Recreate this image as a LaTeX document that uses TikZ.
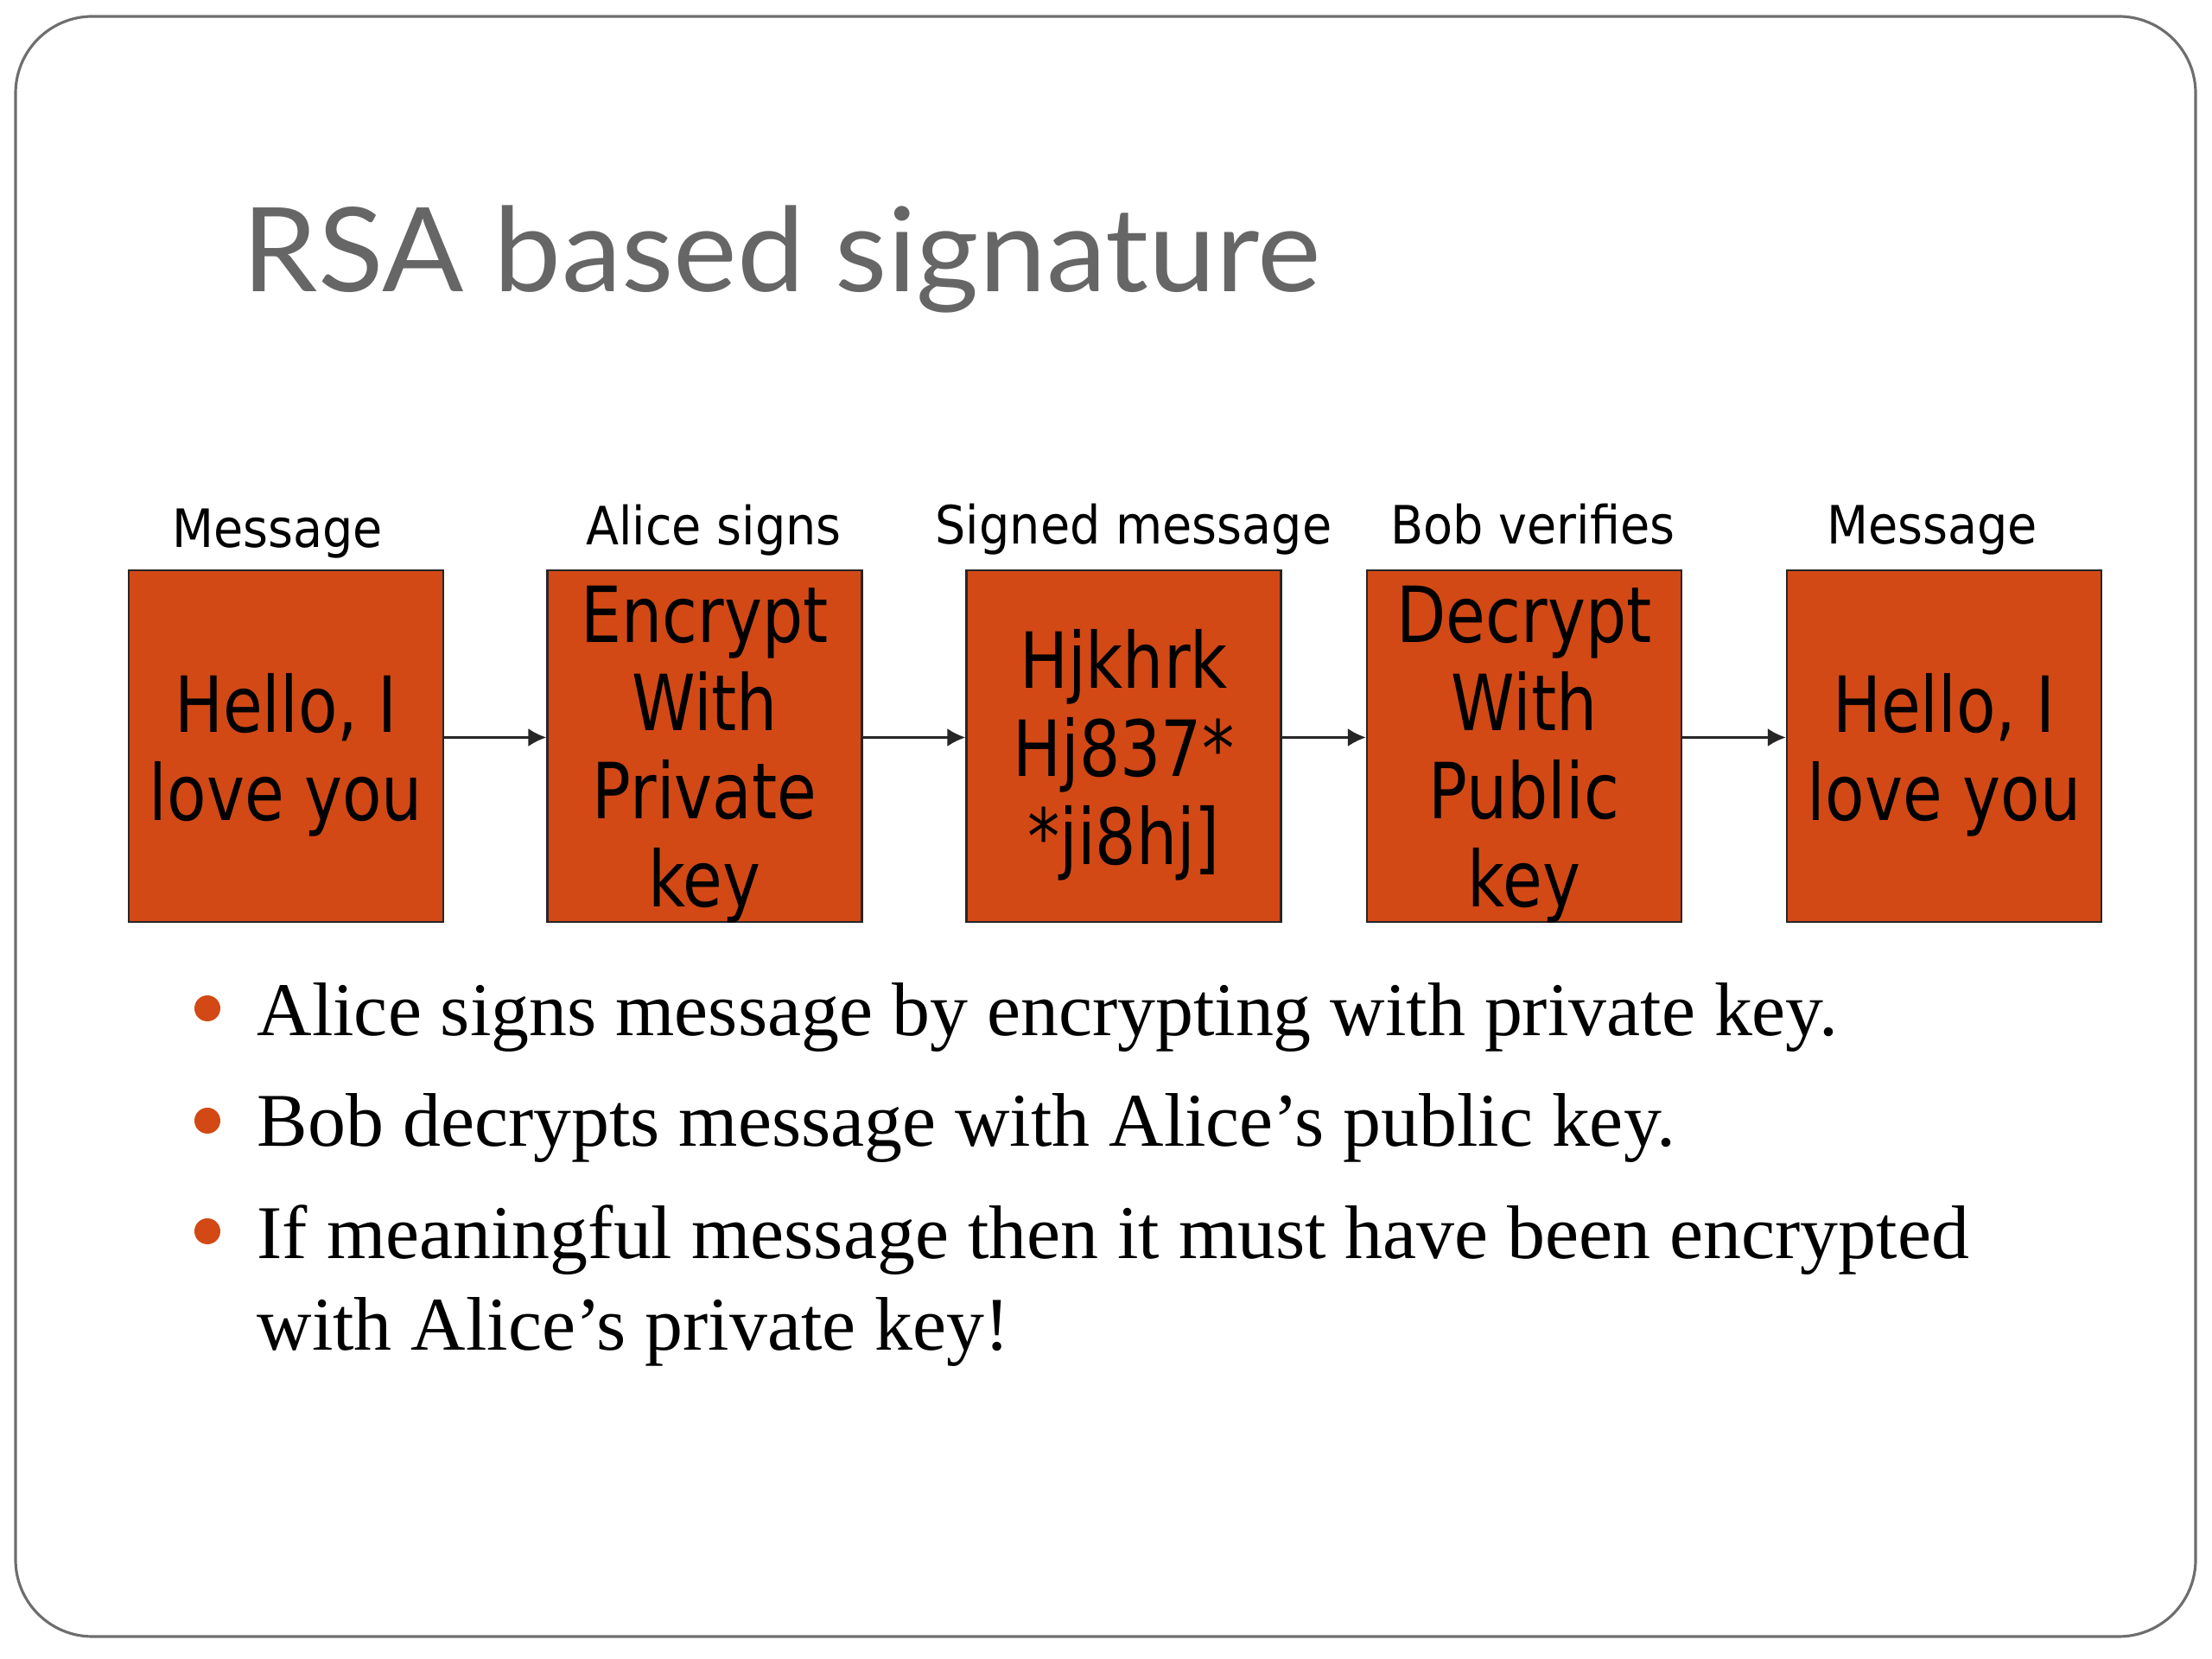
\documentclass[tikz,border=0pt]{standalone}
\usepackage{fontspec}
\usetikzlibrary{arrows.meta}
\setmainfont{Liberation Serif}
\newfontfamily\titlefont[FakeStretch=1.03]{Lato}
\newfontfamily\labfont[FakeStretch=0.91]{DejaVu Sans}
\newfontfamily\boxfont[FakeStretch=0.83]{DejaVu Sans}
\definecolor{boxorange}{RGB}{210,73,22}
\definecolor{bordergray}{RGB}{110,110,110}
\definecolor{titlegray}{RGB}{102,102,102}
\begin{document}
\begin{tikzpicture}[x=1cm,y=1cm,
  stepbox/.style={draw=black!85, line width=0.6pt, fill=boxorange,
    minimum width=3.64cm, minimum height=4.07cm, inner sep=0pt},
  boxtext/.style={align=center, text=black, inner sep=0pt, yshift=-0.1cm,
    font=\boxfont\fontsize{25.5}{29}\selectfont},
  lab/.style={anchor=base, inner sep=0pt, font=\labfont\fontsize{17.4}{20}\selectfont},
  conn/.style={draw=black!85, line width=0.9pt, -{Latex[length=2.1mm,width=2.1mm]}},
  btext/.style={anchor=base west, inner sep=0pt, font=\fontsize{25}{30}\selectfont},
  bdot/.style={circle, fill=boxorange, draw=none, minimum size=0.3cm, inner sep=0pt}
]
\useasboundingbox (0,0) rectangle (25.6,19.2);
\draw[bordergray, line width=0.9pt, rounded corners=0.89cm] (0.18,19.01) rectangle (25.41,0.26);

\node[anchor=base west, inner sep=0pt, text=titlegray, font=\titlefont\fontsize{38.5}{44}\selectfont] (title) at (2.80,15.82) {RSA based signature};

\node[stepbox, label={[boxtext]center:Hello, I\\love you}] (b1) at (3.31,10.565) {};
\node[stepbox, label={[boxtext]center:Encrypt\\With\\Private\\key}] (b2) at (8.155,10.565) {};
\node[stepbox, label={[boxtext]center:Hjkhrk\\Hj837*\\*ji8hj]}] (b3) at (13.005,10.565) {};
\node[stepbox, label={[boxtext]center:Decrypt\\With\\Public\\key}] (b4) at (17.64,10.565) {};
\node[stepbox, label={[boxtext]center:Hello, I\\love you}] (b5) at (22.50,10.565) {};

\node[lab] (l1) at (3.21,12.86) {Message};
\node[lab] (l2) at (8.26,12.89) {Alice signs};
\node[lab] (l3) at (13.12,12.90) {Signed message};
\node[lab] (l4) at (17.74,12.90) {Bob verifies};
\node[lab] (l5) at (22.36,12.90) {Message};

\draw[conn] ([yshift=0.1cm]b1.east) -- ([yshift=0.1cm]b2.west);
\draw[conn] ([yshift=0.1cm]b2.east) -- ([yshift=0.1cm]b3.west);
\draw[conn] ([yshift=0.1cm]b3.east) -- ([yshift=0.1cm]b4.west);
\draw[conn] ([yshift=0.1cm]b4.east) -- ([yshift=0.1cm]b5.west);

\node[bdot] (d1) at (2.40,7.53) {};
\node[bdot] (d2) at (2.40,6.23) {};
\node[bdot] (d3) at (2.40,4.95) {};
\node[btext] (t1) at (2.97,7.21) {Alice signs message by encrypting with private key.};
\node[btext] (t2) at (2.97,5.93) {Bob decrypts message with Alice’s public key.};
\node[btext] (t3) at (2.97,4.63) {If meaningful message then it must have been encrypted};
\node[btext] (t4) at (2.97,3.57) {with Alice’s private key!};
\end{tikzpicture}
\end{document}
